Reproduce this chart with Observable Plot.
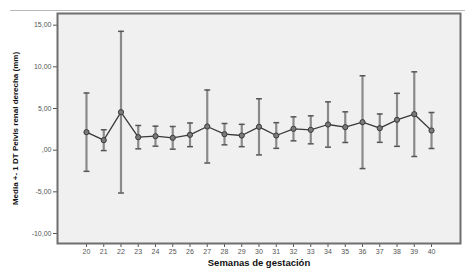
<!DOCTYPE html>
<html>
<head>
<meta charset="utf-8">
<script src="https://cdn.jsdelivr.net/npm/d3@7"></script>
<script src="https://cdn.jsdelivr.net/npm/@observablehq/plot@0.6"></script>
<style>
  html, body { margin: 0; padding: 0; background: #fff; }
  #wrap { position: relative; width: 465px; height: 273px; }
  #topline { position: absolute; left: 10px; top: 10px; width: 455px; height: 1px; background: #b8b8b8; }
</style>
</head>
<body>
<div id="wrap"><div id="topline"></div></div>
<script>
const weeks = [20,21,22,23,24,25,26,27,28,29,30,31,32,33,34,35,36,37,38,39,40];
const means = [2.16,1.2,4.56,1.56,1.68,1.48,1.84,2.84,1.92,1.76,2.8,1.76,2.56,2.44,3.08,2.76,3.36,2.64,3.64,4.32,2.36];
const sds   = [4.7,1.25,9.7,1.4,1.2,1.36,1.42,4.38,1.28,1.34,3.37,1.54,1.44,1.68,2.72,1.84,5.57,1.7,3.18,5.08,2.16];
const yTicks = [15,10,5,0,-5,-10];
const xLabel = "Semanas de gestación";
const yLabel = "Media +- 1 DT Pelvis renal derecha (mm)";

const data = weeks.map((w, i) => ({week: w, mean: means[i], lo: means[i] - sds[i], hi: means[i] + sds[i]}));
const capW = 0.17;
const fmt = d => d === 0 ? ",00" : d.toFixed(2).replace(".", ",");

const chart = Plot.plot({
  width: 465,
  height: 273,
  marginLeft: 57,
  marginTop: 13,
  marginRight: 5,
  marginBottom: 30,
  style: {fontFamily: "Liberation Sans, Arial, sans-serif", fontSize: "7px", color: "#555", background: "transparent"},
  x: {domain: [18.32, 41.68], ticks: weeks, tickFormat: d => String(d), tickSize: 4, tickPadding: 2, label: null},
  y: {domain: [-11.2, 16.4], ticks: yTicks, tickFormat: fmt, tickSize: 4, tickPadding: 2, label: null},
  marks: [
    Plot.rect([0], {x1: 18.32, x2: 41.68, y1: -11.2, y2: 16.4, fill: "#f0f0f0"}),
    Plot.frame({stroke: "#6e6e6e", strokeWidth: 2}),
    Plot.ruleX(data, {x: "week", y1: "lo", y2: "hi", stroke: "#8a8a8a", strokeWidth: 2.2}),
    Plot.link(data, {x1: d => d.week - capW, x2: d => d.week + capW, y1: "hi", y2: "hi", stroke: "#555", strokeWidth: 1.5}),
    Plot.link(data, {x1: d => d.week - capW, x2: d => d.week + capW, y1: "lo", y2: "lo", stroke: "#555", strokeWidth: 1.5}),
    Plot.line(data, {x: "week", y: "mean", stroke: "#3a3a3a", strokeWidth: 1.3}),
    Plot.dot(data, {x: "week", y: "mean", r: 2.6, fill: "#7a7a7a", stroke: "#3a3a3a", strokeWidth: 1}),
    Plot.text([xLabel], {frameAnchor: "bottom", dy: 22, text: d => d, fontWeight: "bold", fontSize: 9.5, fill: "#111", letterSpacing: 1.3}),
    Plot.text([yLabel], {frameAnchor: "left", dx: -42, rotate: -90, textAnchor: "middle", text: d => d, fontWeight: "bold", fontSize: 8, fill: "#111"})
  ]
});
document.getElementById("wrap").appendChild(chart);
</script>
</body>
</html>
